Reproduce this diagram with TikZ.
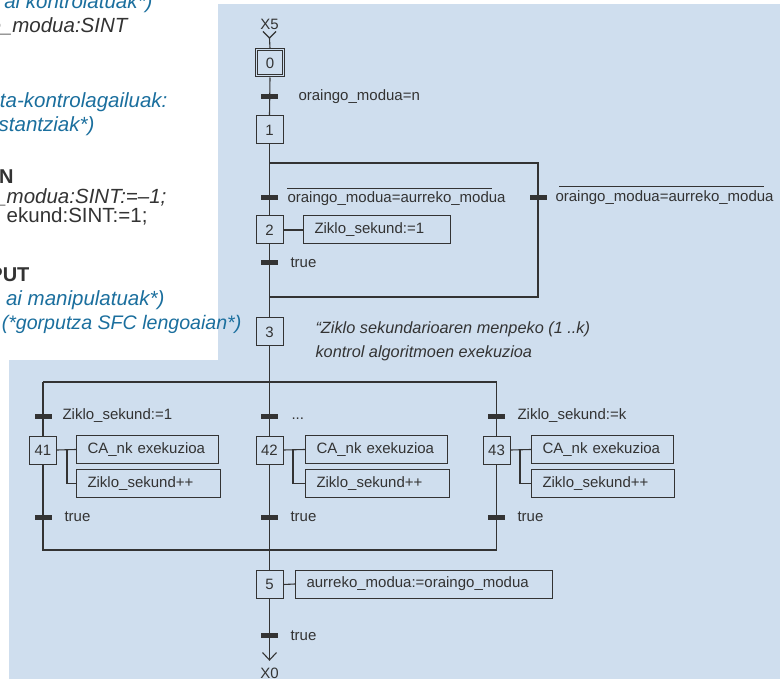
\documentclass[tikz,border=0pt]{standalone}
\usepackage{fontspec}
\setmainfont{Liberation Sans}
\definecolor{panel}{HTML}{CFDEEE}
\definecolor{ink}{HTML}{333333}
\definecolor{note}{HTML}{1B6F9E}
\begin{document}
\begin{tikzpicture}[x=1pt,y=-1pt,line width=1.1pt,draw=ink,
  every node/.style={text=ink,font=\fontsize{15}{18}\selectfont},
  stepbox/.style={draw,minimum width=27pt,minimum height=28pt,inner sep=0pt,line width=1pt},
  bar/.style={fill=ink,draw=none,minimum width=17pt,minimum height=5pt,inner sep=0pt},
  lbl/.style={anchor=west,inner sep=0pt,text height=11pt,text depth=3pt},
  actbox/.style={draw,anchor=west,minimum height=28pt,inner xsep=11pt,inner ysep=0pt,
    align=left,line width=1pt,text width=#1},
  code/.style={anchor=base east,inner sep=0pt,font=\fontsize{20.5}{24}\selectfont},
  remark/.style={code,text=note,font=\fontsize{20.5}{24}\selectfont\itshape}]

% page and panels
\useasboundingbox (0,0) rectangle (780,679);
\fill[white] (0,0) rectangle (780,679);
\fill[panel] (218,4) rectangle (780,679);
\fill[panel] (9,360) rectangle (218,679);

% declaration text at the left
\node[remark] (c1) at (153,9) {ai kontrolatuak*)};
\node[code,font=\fontsize{20.5}{24}\selectfont\itshape] (c2) at (128,33) {o\_modua:SINT};
\node[remark] (c3) at (168,108) {ta-kontrolagailuak:};
\node[remark] (c4) at (95,132) {stantziak*)};
\node[code,font=\fontsize{20}{24}\selectfont\bfseries] (c5) at (14,184) {N};
\node[code,font=\fontsize{20.5}{24}\selectfont\itshape] (c6) at (167,204) {o\_modua:SINT:=–1;};
\node[code] (c7) at (148,223) {ekund:SINT:=1;};
\node[code,font=\fontsize{20}{24}\selectfont\bfseries] (c8) at (30,282) {PUT};
\node[remark] (c9) at (165,306) {ai manipulatuak*)};
\node[remark,font=\fontsize{19.6}{24}\selectfont\itshape] (c10) at (242,330) {(*gorputza SFC lengoaian*)};

% steps
\node (x5) at (269.5,24) {X5};
\coordinate (x5v) at (269.5,38);
\node[stepbox,minimum width=29pt] (s0) at (270,63) {0};
\draw[line width=1pt] ([shift={(2.5,2.5)}]s0.north west) rectangle ([shift={(-2.5,-2.5)}]s0.south east);
\node[stepbox] (s1) at (269.5,130) {1};
\node[stepbox] (s2) at (269.5,230) {2};
\node[stepbox] (s3) at (269.5,332) {3};
\node[stepbox] (s41) at (43,450) {41};
\node[stepbox] (s42) at (269.5,450) {42};
\node[stepbox] (s43) at (496.5,450) {43};
\node[stepbox] (s5) at (269.5,584.5) {5};
\coordinate (x0v) at (269.5,660);
\node (x0) at (269.5,673) {X0};

% branch corners
\coordinate (d1L) at (269.5,163);
\coordinate (d1R) at (538,163);
\coordinate (c1R) at (538,297);
\coordinate (c1L) at (269.5,297);
\coordinate (d2L) at (43,382);
\coordinate (d2R) at (496.5,382);
\coordinate (c2L) at (43,550);
\coordinate (c2R) at (496.5,550);

% links
\draw (x5v) ++(-6.5,-6.5) -- (x5v) -- ++(6.5,-6.5);
\draw (x5v) -- (s0.north);
\draw (s0.south) -- (s1.north);
\draw (s1.south) -- (s2.north);
\draw (d1L) -- (d1R) -- (c1R) -- (c1L);
\draw (s2.south) -- (s3.north);
\draw (s3.south) -- (s42.north);
\draw (d2L) -- (d2R);
\draw (d2L) -- (s41.north);
\draw (d2R) -- (s43.north);
\draw (s41.south) -- (c2L) -- (c2R) -- (s43.south);
\draw (s42.south) -- (s5.north);
\draw (s5.south) -- (x0v);
\draw (x0v) ++(-7,-7.5) -- (x0v) -- ++(7,-7.5);

% transitions
\node[bar] (t1) at (269.5,97) {};
\node[bar] (t2) at (269.5,198) {};
\node[bar] (tr) at (538,198) {};
\node[bar] (t3) at (269.5,263) {};
\node[bar] (t41a) at (43,416) {};
\node[bar] (t42a) at (269.5,416) {};
\node[bar] (t43a) at (496.5,416) {};
\node[bar] (t41b) at (43,517) {};
\node[bar] (t42b) at (269.5,517) {};
\node[bar] (t43b) at (496.5,517) {};
\node[bar] (t5) at (269.5,635) {};

% receptivities
\node[lbl] (l1) at (298,97) {oraingo\_modua=n};
\node[lbl] (l2) at (287,199) {oraingo\_modua=aurreko\_modua};
\draw[line width=1.1pt] ([xshift=0pt,yshift=3pt]l2.north west) -- ([xshift=-14pt,yshift=3pt]l2.north east);
\node[lbl] (lr) at (555,198) {oraingo\_modua=aurreko\_modua};
\draw[line width=1.1pt] ([xshift=4pt,yshift=4pt]lr.north west) -- ([xshift=-10pt,yshift=4pt]lr.north east);
\node[lbl] (l3) at (290,264) {true};
\node[lbl] (l41a) at (62,416) {Ziklo\_sekund:=1};
\node[lbl] (l42a) at (291,416) {...};
\node[lbl] (l43a) at (517,416) {Ziklo\_sekund:=k};
\node[lbl] (l41b) at (64,517) {true};
\node[lbl] (l42b) at (290,517) {true};
\node[lbl] (l43b) at (517,517) {true};
\node[lbl] (l5) at (290,636) {true};

% comment beside step 3
\node[anchor=west,inner sep=0pt,align=left,font=\fontsize{16.3}{24}\selectfont\itshape] (rem3) at (315,341)
  {“Ziklo sekundarioaren menpeko (1 ..k)\\kontrol algoritmoen exekuzioa};

% actions
\node[actbox=125pt] (a2) at (303,230) {Ziklo\_sekund:=1};
\node[actbox=120pt] (a41a) at (76,449.5) {CA\_nk exekuzioa};
\node[actbox=122pt] (a41b) at (76,483.5) {Ziklo\_sekund++};
\node[actbox=120pt] (a42a) at (305,449.5) {CA\_nk exekuzioa};
\node[actbox=122pt] (a42b) at (305,483.5) {Ziklo\_sekund++};
\node[actbox=120pt] (a43a) at (531,449.5) {CA\_nk exekuzioa};
\node[actbox=121pt] (a43b) at (531,483.5) {Ziklo\_sekund++};
\node[actbox=235pt] (a5) at (295,584) {aurreko\_modua:=oraingo\_modua};

\draw (s2.east) -- (a2.west);
\draw (s41.east) -- (a41a.west);
\draw (s41.east -| 67,0) |- (a41b.west);
\draw (s42.east) -- (a42a.west);
\draw (s42.east -| 293,0) |- (a42b.west);
\draw (s43.east) -- (a43a.west);
\draw (s43.east -| 520,0) |- (a43b.west);
\draw (s5.east) -- (a5.west);
\end{tikzpicture}
\end{document}
